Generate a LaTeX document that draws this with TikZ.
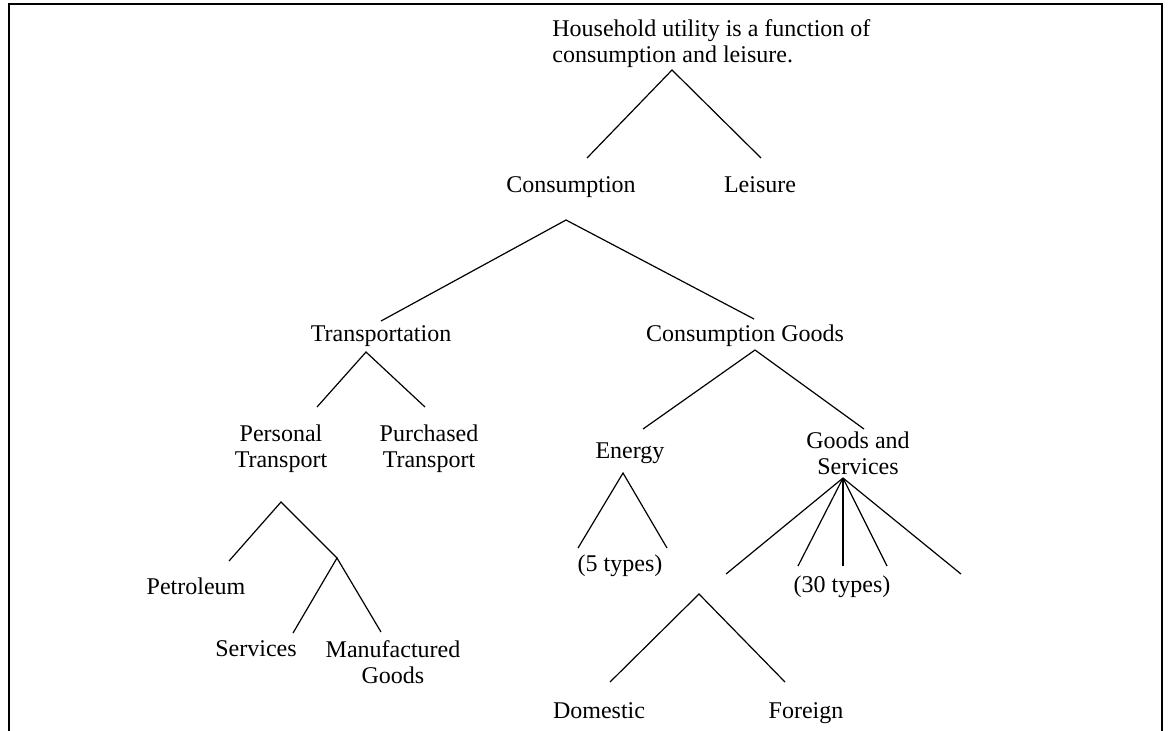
\documentclass[tikz,border=0pt]{standalone}
\usepackage{fontspec}
\setmainfont{Liberation Serif}

\begin{document}
\begin{tikzpicture}[
  x=0.5pt, y=-0.5pt,
  font=\fontsize{12}{13}\selectfont,
  lbl/.style={inner sep=0pt, align=center, anchor=base},
  leg/.style={line width=0.6pt}
]
\clip (0,0) rectangle (1170,730);
\draw[line width=1pt] (9,4) rectangle (1162,760);
% labels (base = last line)
\node[lbl, align=left, anchor=base west] (hh) at (552,62) {Household utility is a function of\\consumption and leisure.};
\node[lbl] (cons) at (571,192) {Consumption};
\node[lbl] (leis) at (760,192) {Leisure};
\node[lbl] (trans) at (381,341) {Transportation};
\node[lbl] (cgoods) at (745,341) {Consumption Goods};
\node[lbl] (pers) at (281,467) {Personal\\Transport};
\node[lbl] (purch) at (429,467) {Purchased\\Transport};
\node[lbl] (energy) at (630,458) {Energy};
\node[lbl] (gs) at (858,474) {Goods and\\Services};
\node[lbl] (petrol) at (196,594) {Petroleum};
\node[lbl] (five) at (620,571) {(5 types)};
\node[lbl] (thirty) at (842,592) {(30 types)};
\node[lbl] (serv) at (256,656) {Services};
\node[lbl] (manuf) at (393,683) {Manufactured\\Goods};
\node[lbl] (dom) at (599,718) {Domestic};
\node[lbl] (forn) at (806,718) {Foreign};
% branch points
\coordinate (hh-a) at (672,70);
\coordinate (hh-l) at (587,158);
\coordinate (hh-r) at (761,158);
\coordinate (cons-a) at (566,220);
\coordinate (cons-l) at (381,321);
\coordinate (cons-r) at (754,319);
\coordinate (trans-a) at (366,352);
\coordinate (trans-l) at (317,407);
\coordinate (trans-r) at (425,407);
\coordinate (cg-a) at (755,350);
\coordinate (cg-l) at (643,429);
\coordinate (cg-r) at (864,429);
\coordinate (pers-a) at (281,502);
\coordinate (pers-l) at (229,561);
\coordinate (pers-r) at (337,558);
\coordinate (sm-l) at (293,633);
\coordinate (sm-r) at (381,632);
\coordinate (en-a) at (623,473);
\coordinate (en-l) at (578,548);
\coordinate (en-r) at (667,548);
\coordinate (gs-a) at (843,478);
\coordinate (gs-1) at (726,574);
\coordinate (gs-2) at (798,566);
\coordinate (gs-3) at (843,566);
\coordinate (gs-4) at (887,566);
\coordinate (gs-5) at (961,574);
\coordinate (df-a) at (699,594);
\coordinate (df-l) at (610,682);
\coordinate (df-r) at (785,682);
% legs
\draw[leg] (hh-l) -- (hh-a) -- (hh-r);
\draw[leg] (cons-l) -- (cons-a) -- (cons-r);
\draw[leg] (trans-l) -- (trans-a) -- (trans-r);
\draw[leg] (cg-l) -- (cg-a) -- (cg-r);
\draw[leg] (pers-l) -- (pers-a) -- (pers-r);
\draw[leg] (sm-l) -- (pers-r) -- (sm-r);
\draw[leg] (en-l) -- (en-a) -- (en-r);
\foreach \k in {1,...,5}
  \draw[leg] (gs-a) -- (gs-\k);
\draw[leg] (df-l) -- (df-a) -- (df-r);
\end{tikzpicture}
\end{document}
